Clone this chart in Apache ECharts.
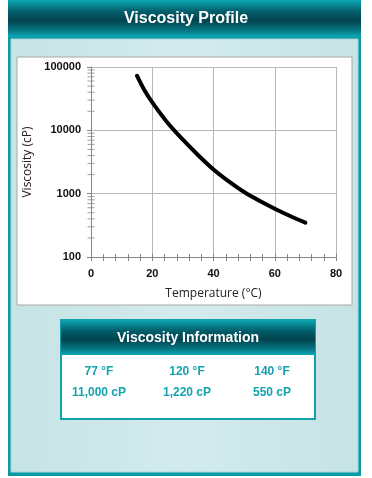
<!DOCTYPE html>
<html><head><meta charset="utf-8">
<script src="https://cdn.jsdelivr.net/npm/echarts@6/dist/echarts.min.js"></script>
<style>html,body{margin:0;padding:0;background:#fff}#c{width:372px;height:478px}</style>
</head><body><div id="c"></div>
<script>
const temps = [15, 17.5, 20, 25, 30, 35, 40, 45, 50, 55, 60, 65, 70];
const viscosity = [72800, 42400, 27700, 13200, 7110, 4050, 2410, 1560, 1060, 771, 578, 444, 348];
const xTicks = [0, 20, 40, 60, 80];
const yTicks = [100, 1000, 10000, 100000];
const infoTemps = ['77 °F', '120 °F', '140 °F'];
const infoVisc = ['11,000 cP', '1,220 cP', '550 cP'];

// log minor tick positions (2..9 per decade)
const minorY = [];
for (let d = 100; d < 100000; d *= 10) for (let m = 2; m <= 9; m++) minorY.push([0, d * m]);

const chart = echarts.init(document.getElementById('c'), null, {renderer: 'canvas'});
const headGrad = () => new echarts.graphic.LinearGradient(0, 0, 0, 1, [
  {offset: 0, color: '#0ca8b4'}, {offset: 0.3, color: '#03606c'},
  {offset: 0.55, color: '#02434e'}, {offset: 0.8, color: '#05707c'}, {offset: 1, color: '#0ca8b4'}]);

const graphics = [
  {type: 'rect', silent: true, z: -10, shape: {x: 8, y: 0, width: 353, height: 476}, style: {fill: '#0a9aa6'}},
  {type: 'rect', silent: true, z: -9, shape: {x: 11, y: 39, width: 347, height: 433}, style: {fill: new echarts.graphic.LinearGradient(0, 0, 1, 0, [
    {offset: 0, color: '#c6e3e5'}, {offset: 0.5, color: '#d3ebec'}, {offset: 1, color: '#c6e3e5'}]), stroke: '#a9d6d9', lineWidth: 1}},
  {type: 'rect', silent: true, z: -8, shape: {x: 8, y: 0, width: 353, height: 37}, style: {fill: headGrad()}},
  {type: 'text', silent: true, z: 5, style: {text: 'Viscosity Profile', x: 186, y: 19, align: 'center', verticalAlign: 'middle', fill: '#fff', font: 'bold 16px "Liberation Sans", Arial, sans-serif'}},
  {type: 'rect', silent: true, z: -7, shape: {x: 17, y: 57, width: 335, height: 248}, style: {fill: '#fff', stroke: '#a8a8a8', lineWidth: 1}},
  {type: 'rect', silent: true, z: -7, shape: {x: 61, y: 320, width: 254, height: 99}, style: {fill: '#fff', stroke: '#12a0ac', lineWidth: 2}},
  {type: 'rect', silent: true, z: -6, shape: {x: 61, y: 320, width: 254, height: 35}, style: {fill: headGrad()}},
  {type: 'text', silent: true, z: 5, style: {text: 'Viscosity Information', x: 188, y: 338, align: 'center', verticalAlign: 'middle', fill: '#fff', font: 'bold 14px "Liberation Sans", Arial, sans-serif'}}
];
const colX = [99, 187, 272];
infoTemps.forEach((t, i) => graphics.push({type: 'text', silent: true, z: 5, style: {text: t, x: colX[i], y: 372, align: 'center', verticalAlign: 'middle', fill: '#17a2ae', font: 'bold 12px "Liberation Sans", Arial, sans-serif'}}));
infoVisc.forEach((t, i) => graphics.push({type: 'text', silent: true, z: 5, style: {text: t, x: colX[i], y: 393, align: 'center', verticalAlign: 'middle', fill: '#17a2ae', font: 'bold 12px "Liberation Sans", Arial, sans-serif'}}));

const axisLine = {lineStyle: {color: '#868686', width: 1}};
chart.setOption({
  animation: false,
  graphic: graphics,
  grid: {left: 91, right: 36, top: 67, bottom: 221, containLabel: false},
  xAxis: [{
    type: 'value', min: 0, max: 80, interval: 20,
    name: 'Temperature (°C)', nameLocation: 'middle', nameGap: 31,
    nameTextStyle: {color: '#222', fontSize: 12, fontFamily: '"Open Sans", "Noto Sans", sans-serif'},
    axisLine: axisLine,
    axisTick: {show: true, length: 4, lineStyle: {color: '#868686'}},
    minorTick: {show: true, splitNumber: 5, length: 4, lineStyle: {color: '#868686'}},
    axisLabel: {color: '#111', fontWeight: 'bold', fontSize: 11, margin: 11, fontFamily: '"Liberation Sans", Arial, sans-serif', customValues: xTicks},
    splitLine: {show: true, lineStyle: {color: '#b8b8b8', width: 1}}
  }, {
    type: 'value', min: 0, max: 80, interval: 20, position: 'bottom',
    axisLine: {show: false}, axisLabel: {show: false}, splitLine: {show: false},
    axisTick: {show: true, inside: true, length: 3, lineStyle: {color: '#868686'}},
    minorTick: {show: true, splitNumber: 5, length: 3, lineStyle: {color: '#868686'}}
  }],
  yAxis: {
    type: 'log', logBase: 10, min: 100, max: 100000,
    name: 'Viscosity (cP)', nameLocation: 'middle', nameGap: 55, nameRotate: 90,
    nameTextStyle: {color: '#222', fontSize: 12, fontFamily: '"Open Sans", "Noto Sans", sans-serif'},
    axisLine: {show: true, lineStyle: {color: '#868686'}},
    axisTick: {show: true, length: 4, lineStyle: {color: '#868686'}},
    axisLabel: {color: '#111', fontWeight: 'bold', fontSize: 11, margin: 10, fontFamily: '"Liberation Sans", Arial, sans-serif',
      formatter: (v) => String(Math.round(v))},
    splitLine: {show: true, lineStyle: {color: '#b8b8b8', width: 1}}
  },
  series: [{
    type: 'line', data: temps.map((t, i) => [t, viscosity[i]]), smooth: 0.3,
    showSymbol: false, lineStyle: {color: '#000', width: 4, cap: 'round', join: 'round'}, z: 5
  }, {
    type: 'scatter', data: minorY, symbol: 'rect', symbolSize: [7, 1], silent: true,
    itemStyle: {color: '#868686'}, z: 4
  }]
});
</script></body></html>
